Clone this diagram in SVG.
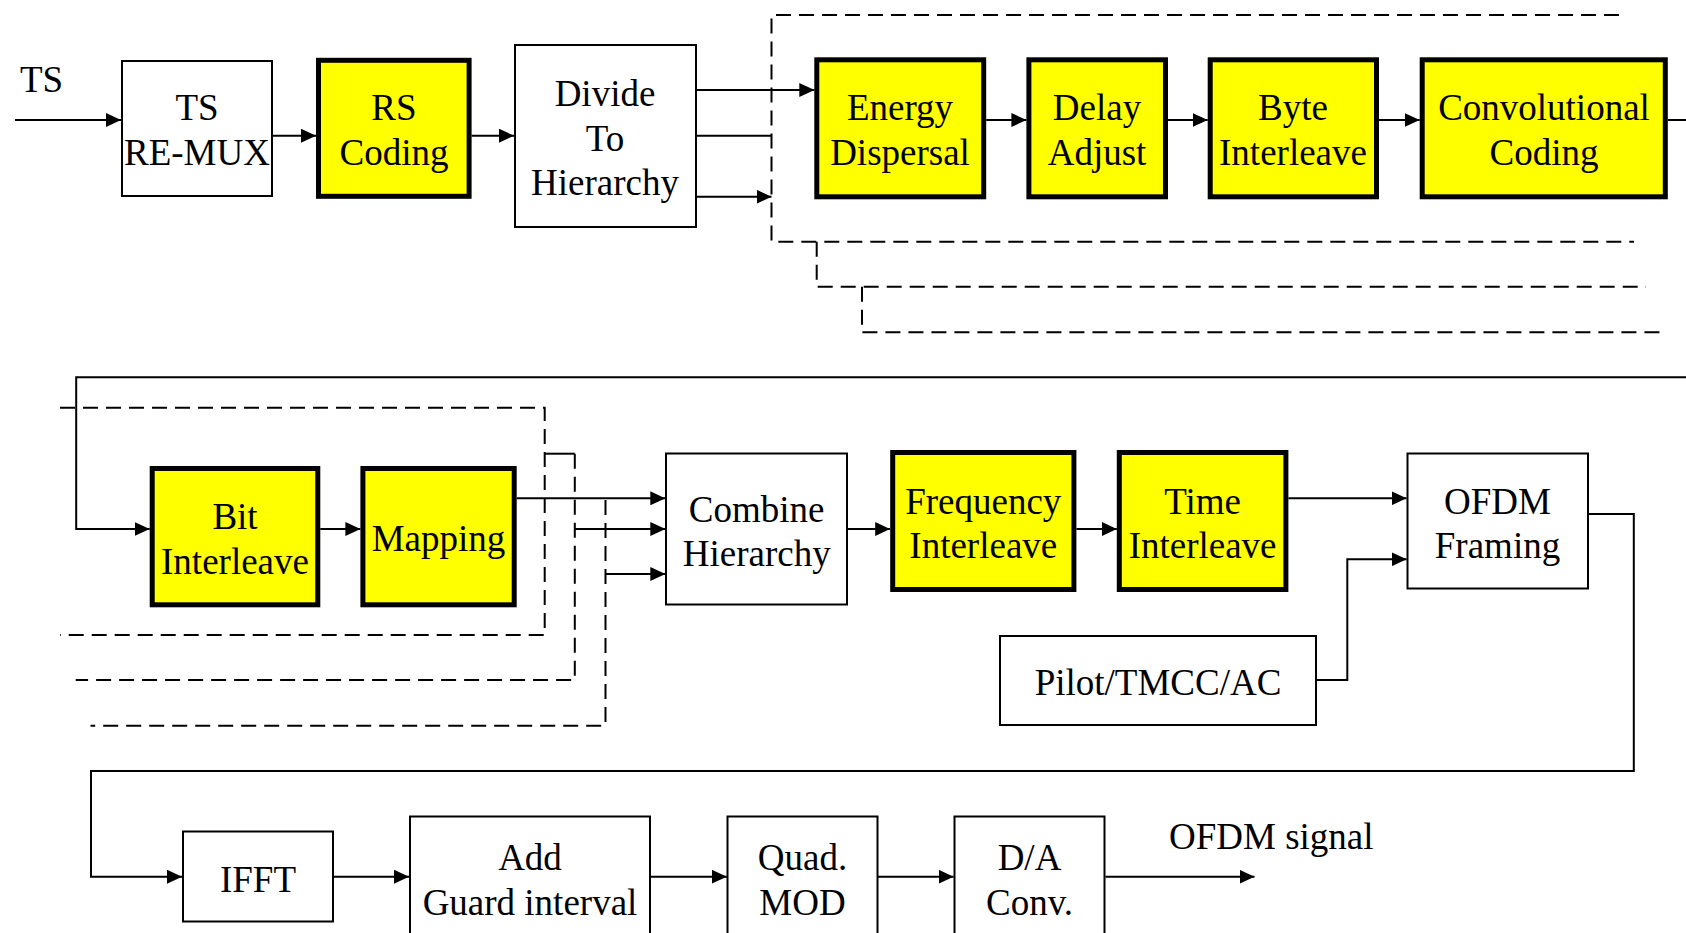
<svg xmlns="http://www.w3.org/2000/svg" width="1686" height="933" viewBox="0 0 1686 933">
  <style>
    text { font-family: "Liberation Serif", "Times New Roman", serif; font-size: 37px; fill: #000; text-anchor: middle; }
    .box { fill: #fff; stroke: #000; stroke-width: 2; }
    .hl { fill: #ffff00; stroke: #000; stroke-width: 5; }
    .wire { fill: none; stroke: #000; stroke-width: 2; }
    .arrow { fill: none; stroke: #000; stroke-width: 2; marker-end: url(#head); }
    .dash { fill: none; stroke: #000; stroke-width: 2; stroke-dasharray: 15 8; }
  </style>
  <defs>
    <marker id="head" markerUnits="userSpaceOnUse" markerWidth="15" markerHeight="14" refX="15" refY="7" orient="auto">
      <path d="M0,0 L15,7 L0,14 Z" fill="#000"/>
    </marker>
  </defs>
  <rect width="1686" height="933" fill="#fff"/>

  <!-- connectors -->
  <g id="connectors">
    <!-- top row -->
    <line class="arrow" x1="15" y1="120" x2="121" y2="120"/>
    <line class="arrow" x1="272" y1="135.7" x2="316" y2="135.7"/>
    <line class="arrow" x1="471.5" y1="135.7" x2="514" y2="135.7"/>
    <line class="arrow" x1="696" y1="90" x2="814.3" y2="90"/>
    <line class="wire" x1="696" y1="135.7" x2="771.5" y2="135.7"/>
    <line class="arrow" x1="696" y1="196.7" x2="771.5" y2="196.7"/>
    <line class="arrow" x1="986.2" y1="120" x2="1026.4" y2="120"/>
    <line class="arrow" x1="1168" y1="120" x2="1207.7" y2="120"/>
    <line class="arrow" x1="1379" y1="120" x2="1419.7" y2="120"/>
    <line class="wire" x1="1667.8" y1="120" x2="1686" y2="120"/>

    <!-- hierarchical layer outlines, top -->
    <path class="dash" d="M1619,15 H771.5 V241.7 H1634"/>
    <path class="dash" d="M816.7,241.7 V286.7 H1646"/>
    <path class="dash" d="M862,286.7 V332.3 H1667"/>

    <!-- feed into second row -->
    <path class="arrow" d="M1686,377.3 H76.2 V529 H149.7"/>
    <line class="arrow" x1="320.3" y1="529" x2="360.4" y2="529"/>
    <line class="arrow" x1="516.7" y1="498.3" x2="665.3" y2="498.3"/>
    <line class="arrow" x1="574.8" y1="529" x2="665.3" y2="529"/>
    <line class="arrow" x1="605.5" y1="574" x2="665.3" y2="574"/>

    <!-- hierarchical layer outlines, middle -->
    <path class="dash" d="M60,407.7 H544.7 V635 H60"/>
    <line class="wire" x1="544.7" y1="453.7" x2="574.8" y2="453.7"/>
    <path class="dash" d="M574.8,453.7 V680 H75.7"/>
    <path class="dash" d="M605.5,500 V725.7 H90.5"/>

    <line class="arrow" x1="848" y1="529" x2="890.2" y2="529"/>
    <line class="arrow" x1="1076.4" y1="529" x2="1116.8" y2="529"/>
    <line class="arrow" x1="1288.4" y1="498.3" x2="1406.6" y2="498.3"/>
    <path class="arrow" d="M1316.5,680 H1347.3 V559.3 H1406.6"/>

    <!-- feed into bottom row -->
    <path class="arrow" d="M1588.5,514 H1633.8 V771 H91 V876.7 H182"/>
    <line class="arrow" x1="333" y1="876.7" x2="409" y2="876.7"/>
    <line class="arrow" x1="650" y1="876.7" x2="726.8" y2="876.7"/>
    <line class="arrow" x1="877.7" y1="876.7" x2="953.6" y2="876.7"/>
    <line class="arrow" x1="1105.4" y1="876.7" x2="1254.5" y2="876.7"/>
  </g>

  <!-- free labels -->
  <text x="20" y="92" style="text-anchor:start">TS</text>
  <text x="1169" y="849" style="text-anchor:start">OFDM signal</text>

  <!-- top row -->
  <g id="ts-remux">
    <rect class="box" x="122" y="61" width="150" height="135"/>
    <text x="197" y="120">TS</text>
    <text x="197" y="165">RE-MUX</text>
  </g>
  <g id="rs-coding">
    <rect class="hl" x="318.5" y="60.3" width="150.6" height="136"/>
    <text x="394" y="120">RS</text>
    <text x="394" y="165">Coding</text>
  </g>
  <g id="divide-hierarchy">
    <rect class="box" x="515" y="45" width="181" height="182"/>
    <text x="605" y="105.5">Divide</text>
    <text x="605" y="150.5">To</text>
    <text x="605" y="195">Hierarchy</text>
  </g>
  <g id="energy-dispersal">
    <rect class="hl" x="816.8" y="59.8" width="166.9" height="137"/>
    <text x="900" y="120">Energy</text>
    <text x="900" y="165">Dispersal</text>
  </g>
  <g id="delay-adjust">
    <rect class="hl" x="1028.9" y="59.8" width="136.6" height="137"/>
    <text x="1097" y="120">Delay</text>
    <text x="1097" y="165">Adjust</text>
  </g>
  <g id="byte-interleave">
    <rect class="hl" x="1210.2" y="59.8" width="166.3" height="137"/>
    <text x="1293" y="120">Byte</text>
    <text x="1293" y="165">Interleave</text>
  </g>
  <g id="convolutional-coding">
    <rect class="hl" x="1422.2" y="59.8" width="243.1" height="137"/>
    <text x="1544" y="120">Convolutional</text>
    <text x="1544" y="165">Coding</text>
  </g>

  <!-- middle row -->
  <g id="bit-interleave">
    <rect class="hl" x="152.2" y="468.5" width="165.6" height="136.3"/>
    <text x="235" y="528.5">Bit</text>
    <text x="235" y="573.5">Interleave</text>
  </g>
  <g id="mapping">
    <rect class="hl" x="362.9" y="468.5" width="151.3" height="136.3"/>
    <text x="438.5" y="551">Mapping</text>
  </g>
  <g id="combine-hierarchy">
    <rect class="box" x="666" y="453.5" width="181" height="151"/>
    <text x="756.7" y="521.5">Combine</text>
    <text x="756.7" y="566">Hierarchy</text>
  </g>
  <g id="frequency-interleave">
    <rect class="hl" x="892.7" y="452.5" width="181.2" height="137"/>
    <text x="983.3" y="514">Frequency</text>
    <text x="983.3" y="558">Interleave</text>
  </g>
  <g id="time-interleave">
    <rect class="hl" x="1119.3" y="452.5" width="166.6" height="137"/>
    <text x="1202.6" y="514">Time</text>
    <text x="1202.6" y="558">Interleave</text>
  </g>
  <g id="ofdm-framing">
    <rect class="box" x="1407.5" y="453.5" width="180.5" height="135"/>
    <text x="1497.5" y="514">OFDM</text>
    <text x="1497.5" y="558">Framing</text>
  </g>
  <g id="pilot-tmcc-ac">
    <rect class="box" x="1000" y="636" width="316" height="89"/>
    <text x="1158" y="695">Pilot/TMCC/AC</text>
  </g>

  <!-- bottom row -->
  <g id="ifft">
    <rect class="box" x="183" y="831.5" width="150" height="90"/>
    <text x="258" y="892">IFFT</text>
  </g>
  <g id="add-guard-interval">
    <rect class="box" x="410" y="816.5" width="240" height="150"/>
    <text x="530" y="869.5">Add</text>
    <text x="530" y="914.5">Guard interval</text>
  </g>
  <g id="quad-mod">
    <rect class="box" x="727.5" y="816.5" width="150" height="150"/>
    <text x="802.5" y="870">Quad.</text>
    <text x="802.5" y="914.5">MOD</text>
  </g>
  <g id="da-conv">
    <rect class="box" x="954.5" y="816.5" width="150" height="150"/>
    <text x="1029.5" y="870">D/A</text>
    <text x="1029.5" y="914.5">Conv.</text>
  </g>
</svg>
